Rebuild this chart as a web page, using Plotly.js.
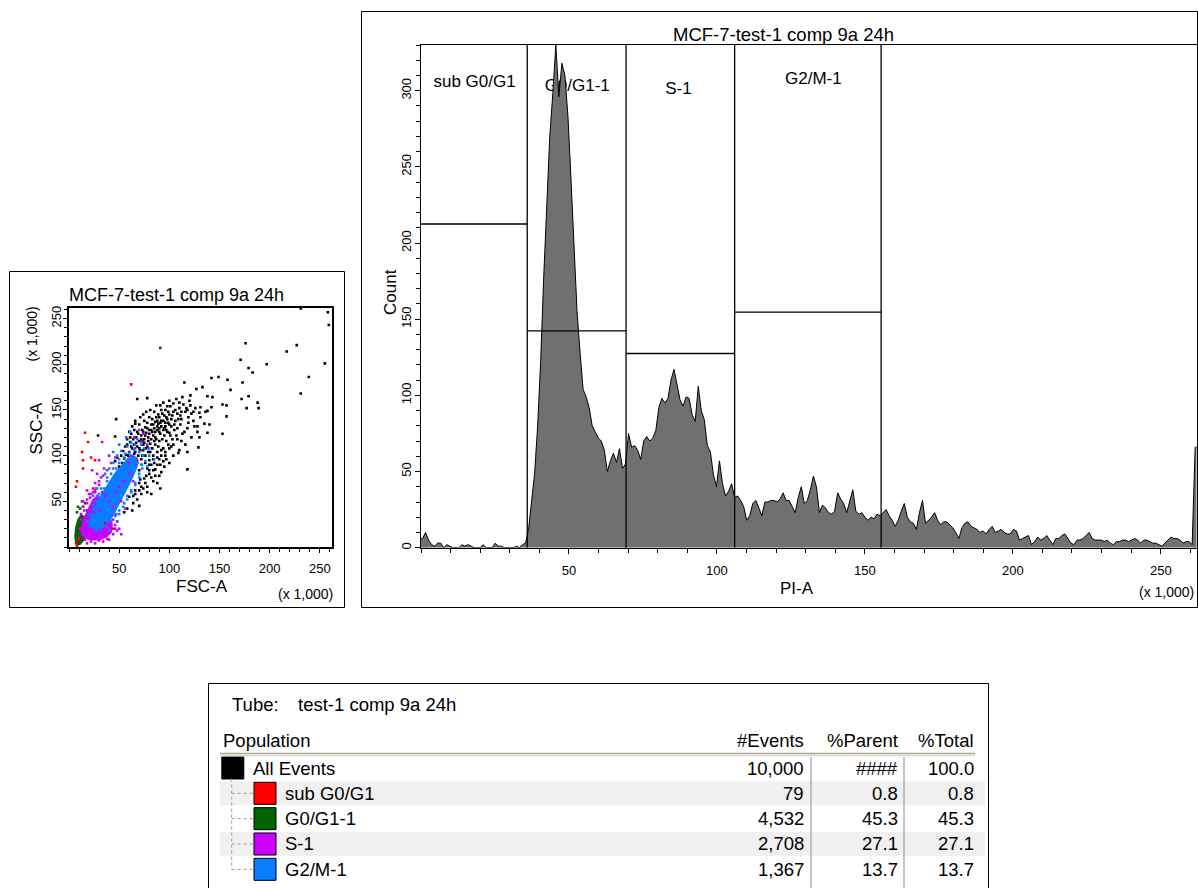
<!DOCTYPE html>
<html><head><meta charset="utf-8">
<script src="https://cdn.plot.ly/plotly-3.0.1.min.js"></script>
<style>html,body{margin:0;padding:0;background:#fff;}#chart{width:1198px;height:888px;}</style>
</head><body><div id="chart"></div>
<script>
// ================= DATA =================
const plotTitle = 'MCF-7-test-1 comp 9a 24h';
const tubeLabel = 'Tube:';
const tubeName = 'test-1 comp 9a 24h';
const fscTitle = 'FSC-A', sscTitle = 'SSC-A', piTitle = 'PI-A', countTitle = 'Count', scaleNote = '(x 1,000)';
const scatterTicks = [50, 100, 150, 200, 250];
const piTicks = [50, 100, 150, 200, 250];
const countTicks = [0, 50, 100, 150, 200, 250, 300];
const axisMax = 262.144;      // x 1,000
const binWidth = 1.024;       // width of one PI-A channel, x 1,000
const piCounts = [
  6,10,5,2,1,3,3,0,2,1,
  0,0,0,2,1,2,1,0,0,0,
  2,0,0,0,3,1,1,0,0,0,
  0,1,0,2,3,12,29,49,80,123,
  178,228,270,298,330,296,318,310,283,242,
  198,155,128,104,99,92,80,76,72,70,
  64,50,57,62,56,65,52,55,75,66,
  67,64,58,70,73,70,72,77,92,98,
  95,98,110,117,107,97,93,99,98,87,
  83,106,90,84,67,63,48,40,57,42,
  34,37,42,33,34,31,27,18,21,29,
  31,26,21,30,30,31,31,30,32,36,
  31,31,27,23,33,40,29,31,38,47,
  40,23,28,26,23,22,24,36,32,29,
  23,31,38,24,22,23,20,18,20,19,
  22,21,23,25,21,18,14,18,24,29,
  20,17,16,12,23,31,16,18,20,23,
  18,15,17,17,15,13,10,6,13,16,
  17,14,13,12,10,11,9,12,14,10,
  11,12,10,9,9,12,11,5,6,7,
  8,2,4,7,5,6,8,5,2,6,
  6,8,9,6,3,2,5,5,6,8,
  10,6,5,5,5,4,5,3,2,4,
  4,5,5,4,5,6,5,3,5,5,
  4,3,3,2,1,3,5,7,6,6,
  5,3,4,4,2,66
];
const gateNames = ['sub G0/G1', 'G0/G1-1', 'S-1', 'G2/M-1'];
const gateLeft  = [0, 35.9, 69.3, 106.0];
const gateRight = [35.9, 69.3, 106.0, 155.5];
const gateLevel = [212.5, 142.4, 127.5, 154.6];

const populations = ['All Events', 'sub G0/G1', 'G0/G1-1', 'S-1', 'G2/M-1'];
const popEvents = ['10,000', '79', '4,532', '2,708', '1,367'];
const popParent = ['####', '0.8', '45.3', '27.1', '13.7'];
const popTotal  = ['100.0', '0.8', '45.3', '27.1', '13.7'];
const popColors = ['#000000', '#ff0000', '#006400', '#cc00ff', '#0a7cff'];
const tableHeaders = ['Population', '#Events', '%Parent', '%Total'];

// FSC-A / SSC-A events (x 1,000)
const blackEvents = [
 [231,261],[258,257],[259,243],[176,223],[227,221],[217,214],[171,205],[179,196],[183,191],[197,200],[255,201],[239,186],
 [142,185],[149,186],[158,183],[161,172],[173,180],[115,180],[133,175],[127,173],[121,166],[138,165],[143,164],[172,162],
 [179,165],[188,158],[189,152],[177,152],[231,168],[153,156],[157,155],[142,153],[131,153],[138,149],[91,155],[78,163],
 [68,162],[157,143],[153,124],[138,125],[140,134],[136,148],[130,147],[124,148],[118,150],[112,148],[128,132],[129,109],
 [118,104],[109,103],[118,85],[47,140],[66,135],[29,122],[46,121],[91,64],[82,58],
 [50,88],[53,92],[55,97],[57,101],[52,100],[58,94],[60,104],[62,99],[63,108],[65,112],[61,115],[66,104],[68,110],[70,116],
 [67,120],[72,122],[74,112],[71,106],[75,118],[77,125],[73,128],[76,131],[79,120],[80,128],[82,134],[78,136],[81,113],
 [84,122],[85,130],[83,140],[86,137],[88,128],[87,118],[89,135],[90,142],[92,132],[91,124],[94,138],[93,146],[95,130],
 [97,142],[96,150],[99,136],[100,145],[102,140],[98,126],[104,148],[106,138],[101,154],[108,146],[110,152],[105,128],
 [112,140],[114,156],[116,148],[111,134],[119,142],[121,155],[124,138],[103,118],[107,122],[97,116],[94,108],[88,104],
 [84,100],[80,95],[76,92],[72,90],[86,112],[90,116],[95,122],[99,112],[92,100],[85,92],[78,86],[70,84],[64,86],[60,90],
 [66,96],[73,100],[79,104],[83,108],[89,145],[85,148],[80,142],[75,138],[70,134],[65,128],[62,124],[58,118],[56,110],
 [54,105],[48,98],[46,94],[60,126],[66,138],[74,145],[81,150],[87,155],[94,158],[100,160],[107,162],[113,164],[120,160],
 [126,152],[131,142],[135,135],[128,126],[122,120],[116,112],[110,106],[104,100],[97,96],[91,90],[84,84],[77,78],[71,74],
 [102,132],[96,136],[90,130],[86,126],[82,118],[78,110],[74,106],[69,100],[64,94],[68,126],[63,132],[71,142],[77,148],
 [108,130],[113,124],[118,130],[125,132],[130,120],[100,125],[88,138],[92,150],[98,154],[104,157],[110,158],
 [60,55],[66,62],[70,70],[75,75],[80,80],[84,72],[72,58],[64,48],[58,42],[78,66],[86,85],[90,78],[68,52],[74,64],[82,90],
 [95,88],[100,92],[88,70],[63,40],[55,38],[92,82],[70,45],
 [58,112],[61,120],[64,118],[67,114],[69,124],[72,118],[74,126],[76,122],[78,130],[80,124],[82,128],[84,134],[86,120],
 [88,132],[90,126],[92,138],[94,128],[96,132],[98,140],[100,134],[75,114],[79,116],[83,126],[87,142],[91,136],[95,144],
 [99,148],[103,144],[106,150],[70,108],[73,116],[77,108],[81,104],[85,116],[89,110],[93,118],[97,128],[101,122],[105,134],
 [109,140],[62,110],[59,100],[65,102],[68,92],[72,96],[76,100],[80,90],[84,96],[88,98],[92,106],[96,104],[100,108],
 [104,112],[108,118],[112,116],[115,126],[119,136],[122,146],[117,152],[111,144],
 [66,58],[72,66],[76,70],[82,76],[86,78],[78,60],[70,62],[64,56],[80,84],[88,90],[94,94],[90,96],[96,100],[102,110]
];
const greenCore = [[7,3],[6,12],[7,22],[9,30],[12,35],[15,33],[17,26],[17,16],[15,8],[11,3]];
const greenEvents = [
 [8,38],[11,42],[14,44],[18,40],[21,36],[20,28],[21,20],[19,10],[22,14],[9,44],[16,48],[24,44],[26,32],[28,24],[30,18],
 [25,10],[32,52],[36,58],[40,66],[44,72],[48,78],[52,70],[56,66],[60,74],[64,84],[30,46],[91,218],[13,50],[36,24],[42,40]
];
const magentaCore = [[12,14],[13,24],[16,34],[20,44],[24,52],[29,56],[33,50],[37,42],[41,33],[43,24],[42,16],[37,11],[30,8],[22,8],[16,10]];
const magentaEvents = [
 [12,30],[15,40],[18,48],[21,54],[24,60],[27,64],[30,68],[33,60],[36,56],[40,50],[44,44],[47,36],[48,28],[46,20],[44,14],
 [38,9],[30,7],[22,6],[16,8],[11,20],[20,58],[26,70],[32,76],[35,86],[30,95],[40,100],[60,92],[62,100],[68,95],[66,108],
 [72,115],[55,72],[60,80],[50,66],[64,72],[52,50],[56,42],[23,84],[28,80],[18,62],[14,50],[46,60],[74,124],[70,128],
 [65,120],[78,112],[50,20],[52,14],[36,14],[25,38],[30,40],[20,30],[33,115],
 [10,10],[12,36],[14,44],[18,52],[22,58],[26,60],[44,30],[46,24],[48,18],[40,8],[34,6],[26,4],[18,4],[28,14],[34,18],
 [38,22],[26,62],[30,72],[34,78],[38,84],[42,92],[46,98]
];
const blueCore = [[20,28],[24,40],[29,51],[35,62],[41,72],[47,82],[53,90],[59,97],[64,100],[68,97],[68,89],[64,78],[59,67],[54,56],[49,45],[44,35],[38,26],[31,20],[25,20],[21,23]];
const blueEvents = [
 [18,28],[20,36],[24,42],[27,50],[30,58],[35,64],[38,72],[42,80],[47,86],[50,92],[55,98],[60,103],[65,106],[70,104],
 [74,100],[76,94],[73,86],[70,76],[66,70],[62,62],[58,56],[55,48],[50,40],[46,34],[42,28],[37,22],[32,18],[27,17],
 [20,22],[52,105],[58,110],[62,114],[48,100],[44,92],[40,86],[36,80],[78,88],[80,100],[54,62],[45,50],[30,30],[66,112],
 [72,112],[28,64],[24,56],[68,118],[57,120],[75,108],[50,112],[85,96],[40,18],[48,28],[80,108],[61,126],[44,58],[44,104],
 [50,36],[54,44],[58,52],[62,60],[66,68],[70,80],[72,90],[20,34],[24,46],[28,56],[32,64],[38,76],[44,86],[50,96],[56,102]
];
const redEvents = [
 [7,4],[10,8],[8,1],[16,125],[19,115],[13,104],[14,95],[26,95],[22,98],[14,86],[8,72],[7,66],[62,178],[24,64],[44,20],[36,26]
];

// ================= LAYOUT HELPERS =================
const W = 1198, H = 888;
const px = x => x / W;
const py = y => 1 - y / H;
const FONT = 'Arial, "Liberation Sans", sans-serif';
const rowPitch = 25.33;                 // table row pitch in px
const tblTop = 683, tblRow0 = 768;
const ry = yPix => (yPix - tblRow0) / rowPitch;   // pixel -> table row units

const traces = [];
function events(pts, color) {
  return {type:'scatter', mode:'markers', xaxis:'x', yaxis:'y',
    x: pts.map(p => p[0]), y: pts.map(p => p[1]),
    marker:{symbol:'square', size:2.6, color:color, line:{width:0}},
    hoverinfo:'skip', showlegend:false, cliponaxis:true};
}
function core(pts, color) {
  return {type:'scatter', mode:'lines', xaxis:'x', yaxis:'y',
    x: pts.map(p => p[0]).concat([pts[0][0]]), y: pts.map(p => p[1]).concat([pts[0][1]]),
    fill:'toself', fillcolor:color, line:{color:color, width:1.5},
    hoverinfo:'skip', showlegend:false};
}
traces.push(events(blackEvents, popColors[0]));
traces.push(core(greenCore, popColors[2]));
traces.push(events(greenEvents, popColors[2]));
traces.push(core(magentaCore, popColors[3]));
traces.push(core(blueCore, popColors[4]));
traces.push(events(magentaEvents, popColors[3]));
traces.push(events(blueEvents, popColors[4]));
traces.push(events(redEvents, popColors[1]));

// gate labels (drawn under the histogram)
const gateLabelX = [18.1, 52.8, 87.0, 132.6];
const gateLabelY = [305, 302.5, 300.3, 306.9];
traces.push({type:'scatter', mode:'text', xaxis:'x2', yaxis:'y2',
  x: gateLabelX, y: gateLabelY, text: gateNames, textposition:'middle center',
  textfont:{family:FONT, size:17, color:'#000'}, hoverinfo:'skip', showlegend:false});

// histogram: one point per PI-A channel centre, closed at both ends of the scale
const binX = [0].concat(piCounts.map((c, i) => (i + 0.5) * binWidth), [axisMax]);
const binY = [piCounts[0]].concat(piCounts, [piCounts[piCounts.length - 1]]);
traces.push({type:'scatter', mode:'lines', xaxis:'x2', yaxis:'y2',
  x: binX, y: binY, line:{shape:'linear', color:'#000', width:1},
  fill:'tozeroy', fillcolor:'#707070', hoverinfo:'skip', showlegend:false});

// table swatches
const swatchX = populations.map((p, i) => i === 0 ? 24.8 : 57);
traces.push({type:'scatter', mode:'markers', xaxis:'x3', yaxis:'y3',
  x: swatchX, y: populations.map((p, i) => i),
  marker:{symbol:'square', size:22, color:popColors, line:{color:'#000', width:1}},
  hoverinfo:'skip', showlegend:false});

// ================= SHAPES =================
const shapes = [];
function frame(x0, y0, x1, y1) {
  shapes.push({type:'rect', xref:'paper', yref:'paper', x0:px(x0), x1:px(x1), y0:py(y0), y1:py(y1),
    line:{color:'#000', width:1}, fillcolor:'rgba(0,0,0,0)', layer:'above'});
}
frame(9.5, 271.5, 344.5, 607.5);
frame(361.5, 11.5, 1197.5, 607.5);
frame(208.5, 683.5, 988.5, 895);

gateNames.forEach((g, i) => {
  shapes.push({type:'line', xref:'x2', yref:'y2', x0:gateRight[i], x1:gateRight[i], y0:0, y1:330,
    line:{color:'#000', width:1.3}});
  shapes.push({type:'line', xref:'x2', yref:'y2', x0:gateLeft[i], x1:gateRight[i], y0:gateLevel[i], y1:gateLevel[i],
    line:{color:'#000', width:1.3}});
});

populations.forEach((p, i) => {
  if (i % 2 === 1) shapes.push({type:'rect', xref:'x3', yref:'y3', x0:12, x1:777, y0:i - 0.47, y1:i + 0.47,
    line:{width:0}, fillcolor:'#f0f0f0', layer:'below'});
});
shapes.push({type:'line', xref:'x3', yref:'y3', x0:12, x1:767, y0:ry(753.5), y1:ry(753.5), line:{color:'#aca899', width:1.5}});
shapes.push({type:'line', xref:'x3', yref:'y3', x0:12, x1:767, y0:ry(755.5), y1:ry(755.5), line:{color:'#dcd8cc', width:1.5}});
[603, 696].forEach(xs => shapes.push({type:'line', xref:'x3', yref:'y3', x0:xs, x1:xs, y0:ry(757), y1:ry(888),
  line:{color:'#8c8c8c', width:1}}));
shapes.push({type:'line', xref:'x3', yref:'y3', x0:23.7, x1:23.7, y0:0.42, y1:populations.length - 1,
  line:{color:'#9a9a9a', width:1, dash:'dot'}});
populations.forEach((p, i) => {
  if (i > 0) shapes.push({type:'line', xref:'x3', yref:'y3', x0:23.7, x1:45, y0:i, y1:i,
    line:{color:'#9a9a9a', width:1, dash:'dot'}});
});

// ================= ANNOTATIONS =================
const ann = [];
function pa(text, x, y, size, opts) {
  ann.push(Object.assign({text:text, xref:'paper', yref:'paper', x:px(x), y:py(y), showarrow:false,
    xanchor:'center', yanchor:'middle', font:{family:FONT, size:size, color:'#000'}}, opts || {}));
}
pa(plotTitle, 67, 295, 18, {xanchor:'left'});
pa(sscTitle, 36.5, 428, 17, {textangle:-90});
pa(scaleNote, 31.5, 334, 14, {textangle:-90});
pa(fscTitle, 202, 586, 17);
pa(scaleNote, 305, 594, 14);
pa(plotTitle, 783, 35, 18.5);
pa(countTitle, 390, 292, 17, {textangle:-90});
pa(piTitle, 797, 588, 17);
pa(scaleNote, 1166, 591.5, 14);

function ta(text, x, r, anchor) {
  ann.push({text:text, xref:'x3', yref:'y3', x:x, y:r, showarrow:false, xanchor:anchor, yanchor:'middle',
    font:{family:FONT, size:18.5, color:'#000'}});
}
ta(tubeLabel, 22, ry(704), 'left');
ta(tubeName, 88, ry(704), 'left');
const colRight = [null, 598, 692, 768];
ta(tableHeaders[0], 13, ry(740), 'left');
for (let c = 1; c < 4; c++) ta(tableHeaders[c], colRight[c], ry(740), 'right');
populations.forEach((p, i) => {
  ta(p, i === 0 ? 43 : 75, i, 'left');
  ta(popEvents[i], colRight[1], i, 'right');
  ta(popParent[i], colRight[2], i, 'right');
  ta(popTotal[i], colRight[3], i, 'right');
});

// ================= AXES =================
const tickFont = {family:FONT, size:13, color:'#000'};
function linAxis(extra) {
  return Object.assign({showgrid:false, zeroline:false, showline:true, linecolor:'#000', mirror:true,
    ticks:'outside', tickcolor:'#000', tickwidth:1, tickfont:tickFont, tickmode:'array', fixedrange:true,
    minor:{tick0:0, dtick:10, ticks:'outside', ticklen:3, tickcolor:'#000', tickwidth:1, showgrid:false}}, extra);
}
const layout = {
  width:W, height:H, autosize:false, margin:{l:0, r:0, t:0, b:0},
  paper_bgcolor:'#fff', plot_bgcolor:'#fff', showlegend:false, hovermode:false,
  xaxis: linAxis({domain:[px(69), px(332)], range:[0, axisMax], anchor:'y', tickvals:scatterTicks,
    ticklen:4, linewidth:2, ticklabelstandoff:4}),
  yaxis: linAxis({domain:[py(547), py(307.5)], range:[0, axisMax], anchor:'x', tickvals:scatterTicks,
    ticklen:4, linewidth:2, tickangle:-90, ticklabelstandoff:-3}),
  xaxis2: linAxis({domain:[px(421), px(1196.7)], range:[0, axisMax], anchor:'y2', tickvals:piTicks,
    ticklen:5, linewidth:1.5, ticklabelstandoff:5}),
  yaxis2: linAxis({domain:[py(547.7), py(45)], range:[0, 330], anchor:'x2', tickvals:countTicks,
    ticklen:5, linewidth:1.5, tickangle:-90, ticklabelstandoff:-2}),
  xaxis3: {domain:[px(208), px(989)], range:[0, 781], anchor:'y3', visible:false, fixedrange:true},
  yaxis3: {domain:[0, py(tblTop)], range:[ry(888), ry(tblTop)], anchor:'x3', visible:false, fixedrange:true},
  shapes: shapes,
  annotations: ann
};
layout.xaxis.minor.ticklen = 3; layout.yaxis.minor.ticklen = 3;
layout.xaxis2.minor.ticklen = 4; layout.yaxis2.minor.ticklen = 4;

Plotly.newPlot('chart', traces, layout, {staticPlot:true, displayModeBar:false});
</script>
</body></html>
